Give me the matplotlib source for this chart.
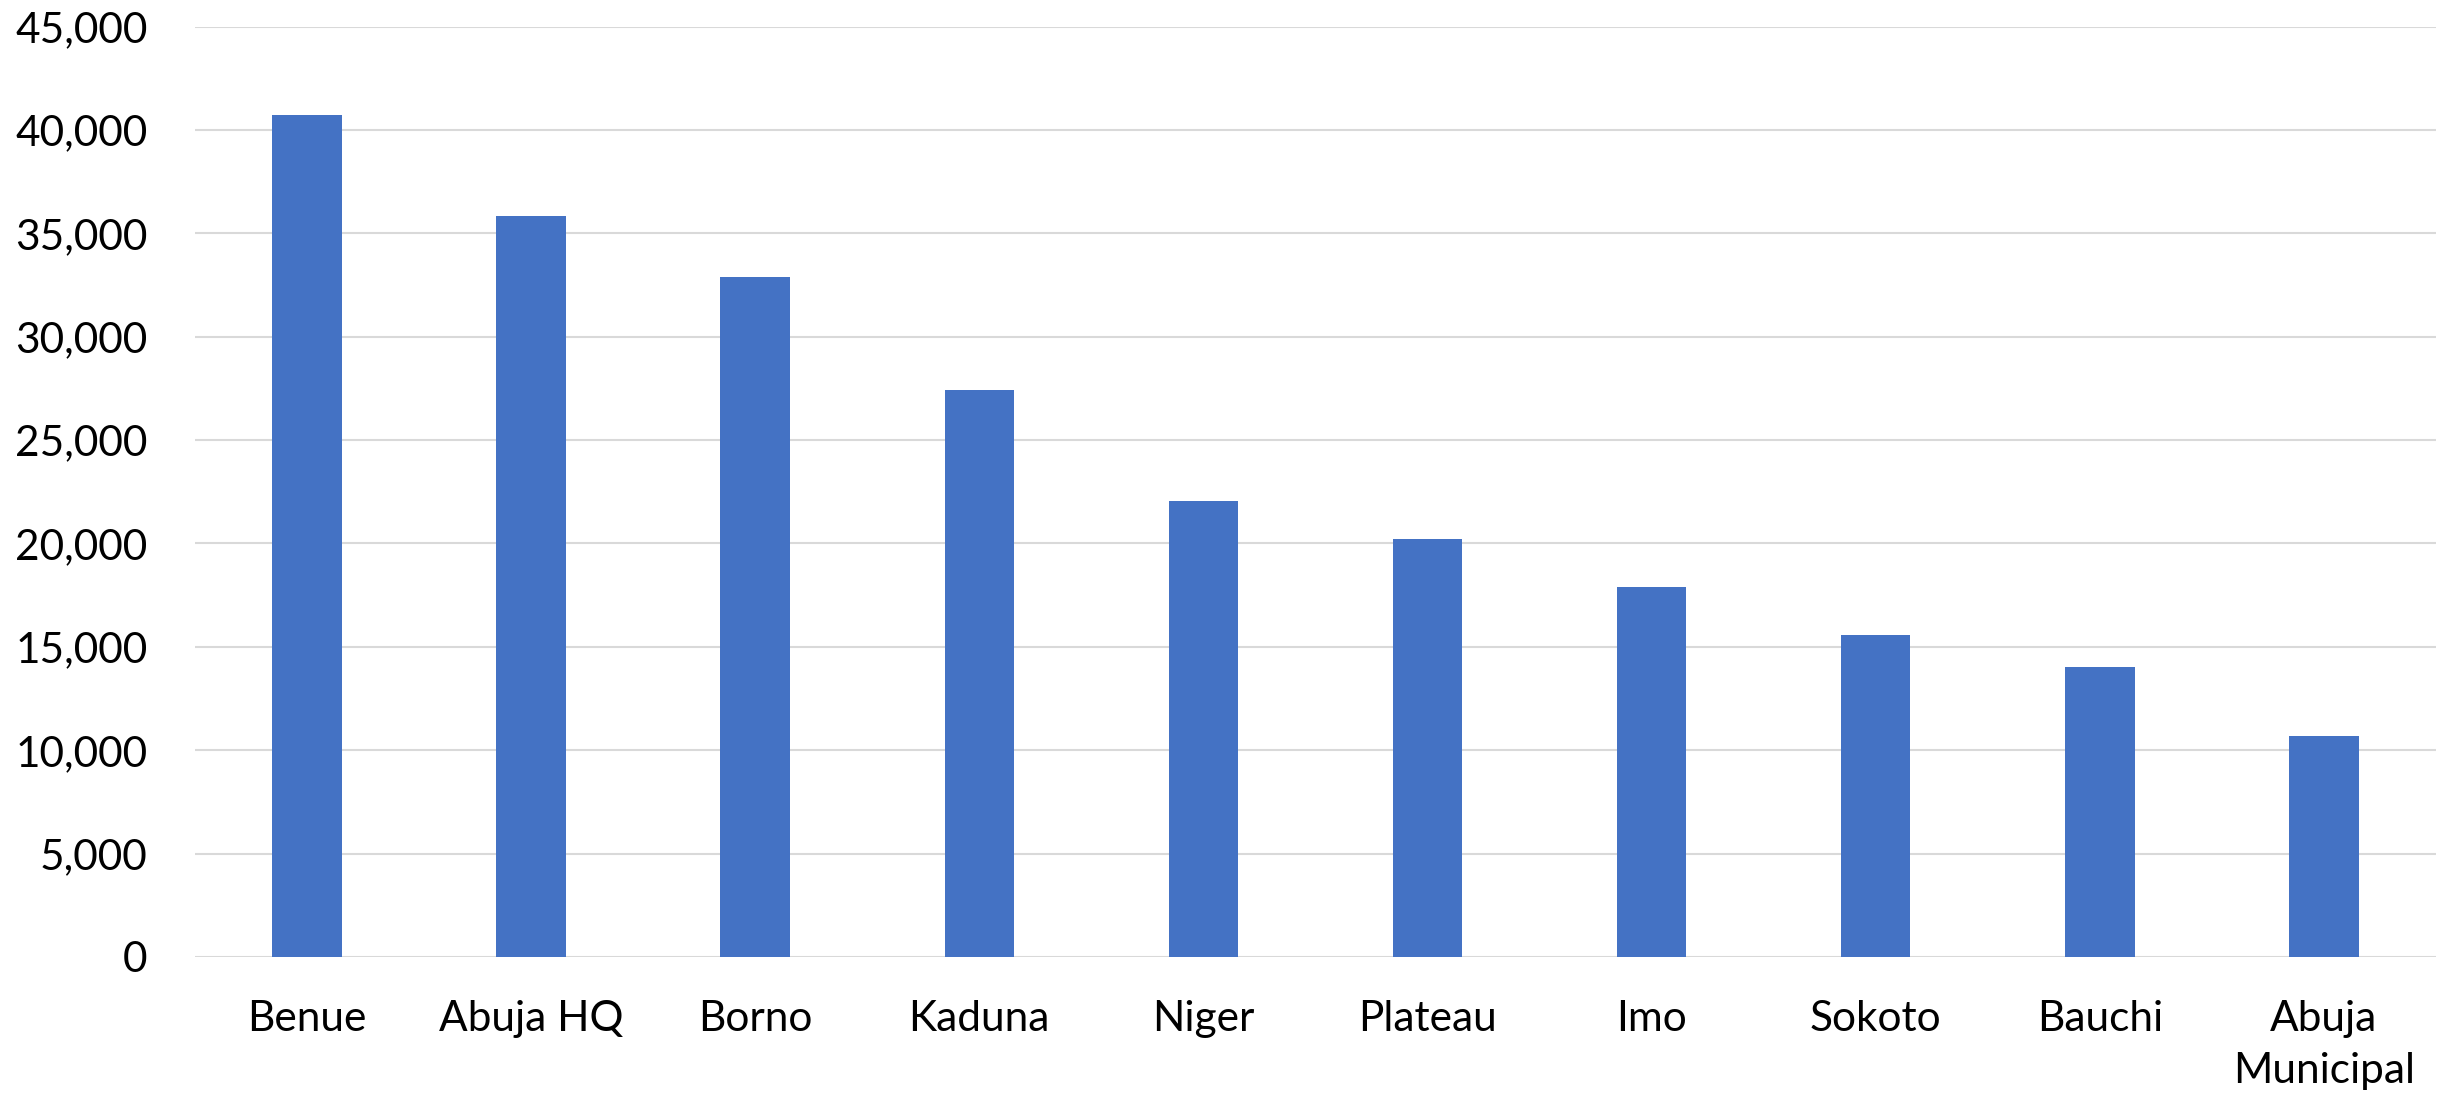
import matplotlib
matplotlib.use("Agg")
import matplotlib.pyplot as plt
from matplotlib.ticker import FuncFormatter, MultipleLocator

categories = ["Benue", "Abuja HQ", "Borno", "Kaduna", "Niger", "Plateau",
              "Imo", "Sokoto", "Bauchi", "Abuja\nMunicipal"]
values = [40720, 35850, 32900, 27420, 22050, 20210, 17880, 15570, 14010, 10690]

plt.rcParams["font.family"] = ["Lato", "DejaVu Sans"]

fig = plt.figure(figsize=(24.46, 11.01), dpi=100)
ax = fig.add_axes([0.0797, 0.1308, 0.9162, 0.8451])

x = range(len(categories))
ax.bar(x, values, width=0.31, color="#4472C4", zorder=3)

ax.set_xlim(-0.5, len(categories) - 0.5)
ax.set_ylim(0, 45000)
ax.yaxis.set_major_locator(MultipleLocator(5000))
ax.yaxis.set_major_formatter(FuncFormatter(lambda v, _: f"{int(v):,}"))
ax.grid(axis="y", color="#d9d9d9", linewidth=1.5, zorder=0)
ax.set_axisbelow(True)

ax.set_xticks(list(x))
ax.set_xticklabels(categories, linespacing=1.45)
ax.tick_params(axis="both", length=0, labelsize=30.5)
ax.tick_params(axis="y", pad=34)
ax.tick_params(axis="x", pad=31)
for s in ax.spines.values():
    s.set_visible(False)

fig.savefig("out.png", dpi=100, facecolor="white")
